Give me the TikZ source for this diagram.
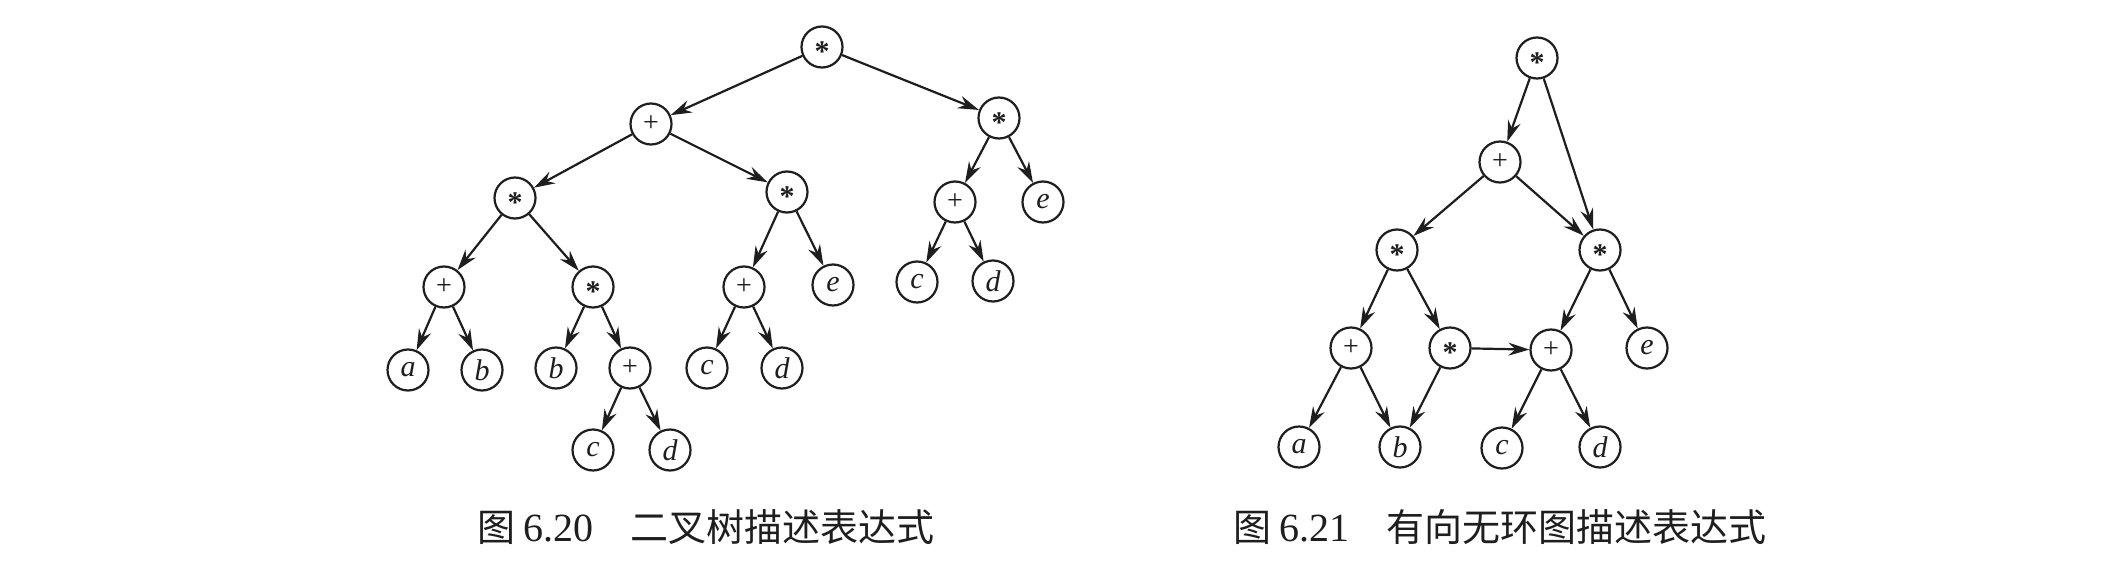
\documentclass[tikz,border=0pt]{standalone}
\usepackage{fontspec}
\setmainfont{Liberation Serif}
\newfontfamily\cjk{Noto Sans CJK SC}
\usetikzlibrary{arrows.meta}
\definecolor{ink}{RGB}{30,30,30}
\tikzset{
  vtx/.style={circle, draw=ink, line width=2.2pt, minimum size=41pt, inner sep=0pt, text=ink},
  opstar/.style={vtx, font=\fontsize{30}{30}\selectfont\bfseries, text height=0pt, text depth=0pt},
  opplus/.style={vtx, font=\fontsize{28}{28}\selectfont},
  leaf/.style={vtx, font=\fontsize{30}{30}\selectfont\itshape},
  edge/.style={draw=ink, line width=2.2pt, -{Stealth[length=21pt,width=13pt,inset=7pt]}},
  capnode/.style={inner sep=0pt, text=ink, font=\fontsize{40}{40}\selectfont},
}
\newcommand{\stx}{\raisebox{-0.47em}{*}}
\newcommand{\cjkcap}[1]{{\fontsize{38}{38}\selectfont\cjk #1}}
\begin{document}
\begin{tikzpicture}[x=1pt,y=-1pt]
\fill[white] (0,0) rectangle (2111,586);
\useasboundingbox (0,0) rectangle (2111,586);

% ---- binary tree ----
\node[opstar] (r)   at (822,47)  {\stx};
\node[opplus] (n1)  at (651,124) {+};
\node[opstar] (n2)  at (999,118) {\stx};
\node[opstar] (n3)  at (515,198) {\stx};
\node[opstar] (n4)  at (787,192) {\stx};
\node[opplus] (n5)  at (955,202) {+};
\node[leaf]   (n6)  at (1043,202) {e};
\node[opplus] (n7)  at (444,287) {+};
\node[opstar] (n8)  at (593,287) {\stx};
\node[opplus] (n9)  at (744,287) {+};
\node[leaf]   (n10) at (833,285) {e};
\node[leaf]   (n11) at (917,282) {c};
\node[leaf]   (n12) at (993,281) {d};
\node[leaf]   (n13) at (408,370) {a};
\node[leaf]   (n14) at (482,370) {b};
\node[leaf]   (n15) at (556,368) {b};
\node[opplus] (n16) at (630,368) {+};
\node[leaf]   (n17) at (707,368) {c};
\node[leaf]   (n18) at (782,368) {d};
\node[leaf]   (n19) at (593,450) {c};
\node[leaf]   (n20) at (670,450) {d};

\foreach \a/\b in {r/n1,r/n2,n1/n3,n1/n4,n2/n5,n2/n6,n3/n7,n3/n8,n4/n9,n4/n10,
                   n5/n11,n5/n12,n7/n13,n7/n14,n8/n15,n8/n16,n9/n17,n9/n18,n16/n19,n16/n20}
  \draw[edge] (\a) -- (\b);

% ---- DAG ----
\node[opstar] (d0) at (1537,58)  {\stx};
\node[opplus] (d1) at (1500,162) {+};
\node[opstar] (d2) at (1397,250) {\stx};
\node[opstar] (d3) at (1600,250) {\stx};
\node[opplus] (d4) at (1351,348) {+};
\node[opstar] (d5) at (1450,348) {\stx};
\node[opplus] (d6) at (1551,350) {+};
\node[leaf]   (d7) at (1647,348) {e};
\node[leaf]   (da) at (1299,447) {a};
\node[leaf]   (db) at (1400,447) {b};
\node[leaf]   (dc) at (1502,448) {c};
\node[leaf]   (dd) at (1600,447) {d};

\foreach \a/\b in {d0/d1,d0/d3,d1/d2,d1/d3,d2/d4,d2/d5,d3/d6,d3/d7,
                   d4/da,d4/db,d5/db,d5/d6,d6/dc,d6/dd}
  \draw[edge] (\a) -- (\b);

% ---- captions ----
\node[capnode, anchor=west] (cap1) at (477,527)
  {\cjkcap{图}\hspace{8pt}6.20\hspace{37pt}\cjkcap{二叉树描述表达式}};
\node[capnode, anchor=west] (cap2) at (1233,527)
  {\cjkcap{图}\hspace{8pt}6.21\hspace{37pt}\cjkcap{有向无环图描述表达式}};
\end{tikzpicture}
\end{document}
